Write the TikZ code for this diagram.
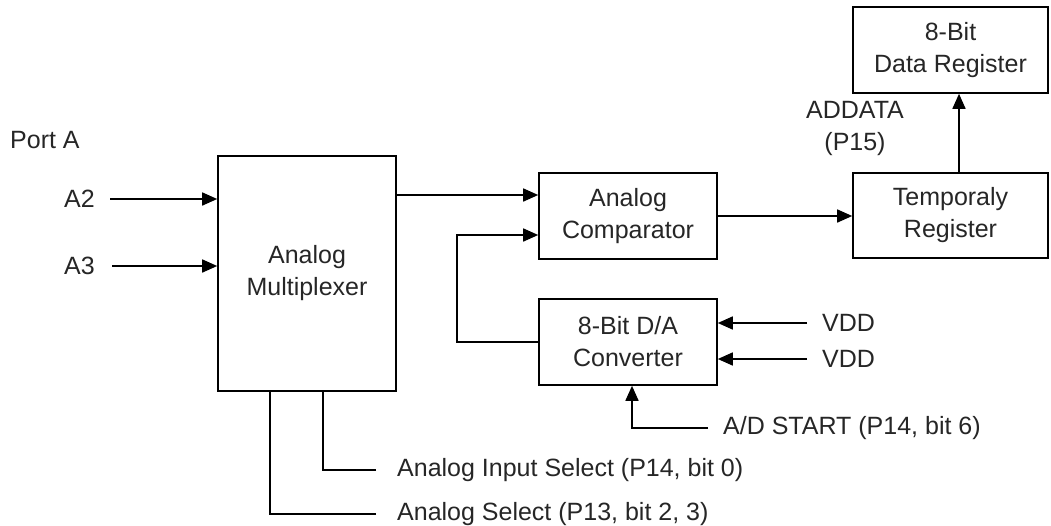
\documentclass[tikz,border=0pt]{standalone}
\usepackage{fontspec}
\setmainfont{Liberation Sans}
\usetikzlibrary{arrows.meta}
\begin{document}
\begin{tikzpicture}[x=1pt,y=-1pt,
  every node/.style={font=\fontsize{25}{32}\selectfont, text=black!85},
  blk/.style={draw, line width=1.6pt, align=center, inner sep=0pt},
  wire/.style={line width=1.6pt},
  arr/.style={line width=1.6pt, -{Triangle[length=15pt,width=13pt]}},
  lbl/.style={inner sep=0pt}]
\useasboundingbox (0,0) rectangle (1051,525);
% blocks
\node[blk, minimum width=178pt, minimum height=235pt] (mux) at (307,273.5) {Analog\\Multiplexer};
\node[blk, minimum width=178pt, minimum height=86pt] (cmp) at (628,216) {Analog\\Comparator};
\node[blk, minimum width=178pt, minimum height=86pt] (dac) at (628,342) {8-Bit D/A\\Converter};
\node[blk, minimum width=195pt, minimum height=85pt] (tmp) at (950.5,215.5) {Temporaly\\Register};
\node[blk, minimum width=195pt, minimum height=86pt] (dat) at (950.5,50) {8-Bit\\Data Register};
% labels
\node[lbl, anchor=west] (porta) at (10,140) {Port A};
\node[lbl, anchor=east] (a2) at (95,199) {A2};
\node[lbl, anchor=east] (a3) at (95,266) {A3};
\node[lbl, align=center] (addata) at (855,128) {ADDATA\\(P15)};
\node[lbl, anchor=west] (vdd1) at (822,323) {VDD};
\node[lbl, anchor=west] (vdd2) at (822,359) {VDD};
\node[lbl, anchor=west] (start) at (723,428) {A/D START (P14, bit 6)};
\node[lbl, anchor=west] (ais) at (397,470) {Analog Input Select (P14, bit 0)};
\node[lbl, anchor=west] (asel) at (397,514) {Analog Select (P13, bit 2, 3)};
% coordinates
\coordinate (a2s) at (110,199);
\coordinate (a3s) at (112,266);
\coordinate (v1s) at (807,323);
\coordinate (v2s) at (807,359);
\coordinate (sts) at (708,428);
\coordinate (aise) at (376,470);
\coordinate (asle) at (376,514);
% connectors
\draw[arr] (a2s) -- (a2s -| mux.west);
\draw[arr] (a3s) -- (a3s -| mux.west);
\draw[arr] (mux.east |- 0,195) -- (cmp.west |- 0,195);
\draw[arr] (dac.west) -- (457,342) -- (457,235) -- (cmp.west |- 0,235);
\draw[arr] (cmp.east) -- (tmp.west |- cmp.east);
\draw[arr] (tmp.north -| 959,0) -- (dat.south -| 959,0);
\draw[arr] (v1s) -- (v1s -| dac.east);
\draw[arr] (v2s) -- (v2s -| dac.east);
\draw[arr] (sts) -- (632,428) -- (dac.south -| 632,0);
\draw[wire] (aise) -- (323,470) -- (mux.south -| 323,0);
\draw[wire] (asle) -- (270,514) -- (mux.south -| 270,0);
\end{tikzpicture}
\end{document}
